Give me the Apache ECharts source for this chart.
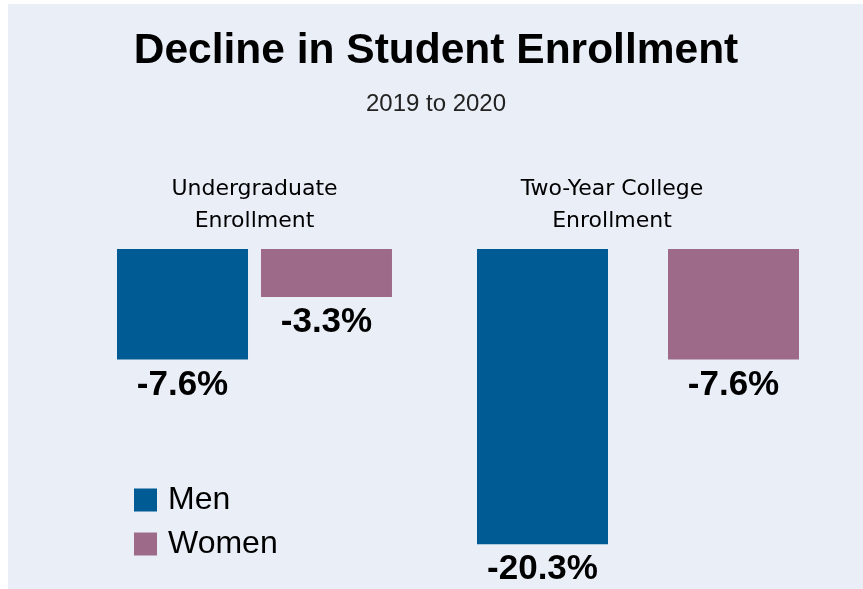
<!DOCTYPE html>
<html>
<head>
<meta charset="utf-8">
<script src="https://cdn.jsdelivr.net/npm/echarts@6/dist/echarts.min.js"></script>
<style>
  html, body { margin: 0; padding: 0; background: #fff; }
  #chart { width: 863px; height: 589px; }
</style>
</head>
<body>
<div id="chart"></div>
<script>
// data
const groups = ['Undergraduate\nEnrollment', 'Two-Year College\nEnrollment'];
const men = [-7.6, -20.3];
const women = [-3.3, -7.6];

const MEN_COLOR = '#005a94';
const WOMEN_COLOR = '#9e6a8a';
const FONT = '"Liberation Sans", Arial, Helvetica, sans-serif';

let myChart = echarts.init(document.getElementById('chart'));

// one grid per group, because the gap between bars differs
const grids = [
    {left: 117, width: 275, top: 249, height: 320},
    {left: 477, width: 322, top: 249, height: 320}
];
const gaps = ['9.9%', '45.8%'];
const labelPads = [[0, 0, 0, 0], [0, 52, 0, 0]];

const valueLabel = {
    show: true,
    position: 'bottom',
    distance: 8,
    formatter: '{c}%',
    color: '#000',
    fontFamily: FONT,
    fontWeight: 'bold',
    fontSize: 35
};

const series = [];
groups.forEach((g, i) => {
    series.push({
        name: 'Men',
        type: 'bar',
        xAxisIndex: i,
        yAxisIndex: i,
        barWidth: 131,
        barGap: gaps[i],
        itemStyle: {color: MEN_COLOR},
        label: valueLabel,
        data: [men[i]]
    });
    series.push({
        name: 'Women',
        type: 'bar',
        xAxisIndex: i,
        yAxisIndex: i,
        barWidth: 131,
        barGap: gaps[i],
        itemStyle: {color: WOMEN_COLOR},
        label: valueLabel,
        data: [women[i]]
    });
});

myChart.setOption({
    backgroundColor: '#fff',
    animation: false,
    graphic: [{
        type: 'rect',
        z: -10,
        shape: {x: 8, y: 4, width: 855, height: 585},
        style: {fill: '#eaeef7'}
    }],
    title: {
        text: 'Decline in Student Enrollment',
        subtext: '2019 to 2020',
        left: 431,
        textAlign: 'center',
        top: 25,
        padding: 5,
        itemGap: 19,
        textStyle: {
            fontFamily: FONT,
            fontWeight: 'bold',
            fontSize: 42.5,
            color: '#000'
        },
        subtextStyle: {
            fontFamily: FONT,
            fontSize: 24,
            color: '#222'
        }
    },
    legend: {
        data: ['Men', 'Women'],
        orient: 'vertical',
        left: 134,
        top: 484,
        padding: 0,
        icon: 'rect',
        itemWidth: 23,
        itemHeight: 23,
        itemGap: 12,
        selectedMode: false,
        textStyle: {
            fontFamily: FONT,
            fontSize: 32,
            color: '#000',
            padding: [0, 0, 0, 6]
        }
    },
    grid: grids,
    xAxis: groups.map((g, i) => ({
        type: 'category',
        gridIndex: i,
        position: 'top',
        data: [g],
        axisLine: {show: false},
        axisTick: {show: false},
        axisLabel: {
            margin: 12,
            fontFamily: '"DejaVu Sans", sans-serif',
            fontSize: 22,
            lineHeight: 32,
            color: '#000',
            padding: labelPads[i]
        }
    })),
    yAxis: groups.map((g, i) => ({
        type: 'value',
        gridIndex: i,
        min: -22,
        max: 0,
        show: false
    })),
    series: series
});
</script>
</body>
</html>
